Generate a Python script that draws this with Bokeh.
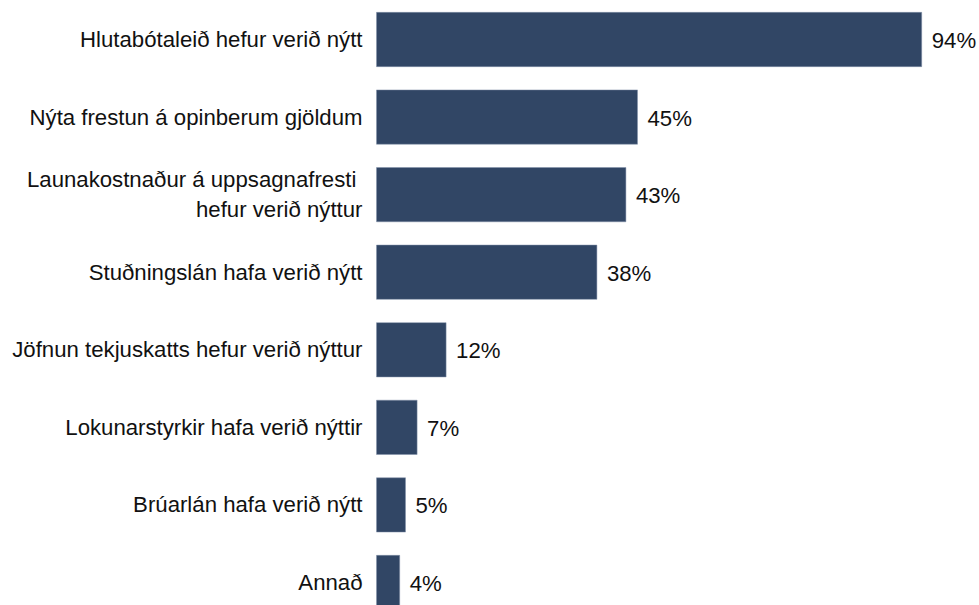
from bokeh.plotting import figure
from bokeh.models import ColumnDataSource, Range1d
from bokeh.core.properties import value
from bokeh.embed import file_html
from bokeh.resources import INLINE

categories = [
    "Hlutabótaleið hefur verið nýtt",
    "Nýta frestun á opinberum gjöldum",
    "Launakostnaður á uppsagnafresti \nhefur verið nýttur",
    "Stuðningslán hafa verið nýtt",
    "Jöfnun tekjuskatts hefur verið nýttur",
    "Lokunarstyrkir hafa verið nýttir",
    "Brúarlán hafa verið nýtt",
    "Annað",
]
values = [94, 45, 43, 38, 12, 7, 5, 4]
value_labels = ["94%", "45%", "43%", "38%", "12%", "7%", "5%", "4%"]

n = len(categories)
pos = [n - 1 - i for i in range(n)]

src = ColumnDataSource(dict(cat=categories, val=values, lab=value_labels, y=pos,
                            zero=[0] * n))

W, H = 979, 605
px_per_unit = 5.80
x0_px = 376
x_start = -x0_px / px_per_unit
x_end = (W - x0_px) / px_per_unit
step = 77.57
y_top = (n - 1) + 39 / step
y_bot = y_top - H / step

p = figure(width=W, height=H, output_backend="svg", toolbar_location=None,
           x_range=Range1d(x_start, x_end), y_range=Range1d(y_bot, y_top),
           min_border=0, outline_line_color=None)
p.axis.visible = False
p.grid.visible = False

p.hbar(y="y", left=0, right="val", height=0.7, source=src,
       fill_color="#314665", line_color="#8090a8", line_width=0.5)

p.text(x="zero", y="y", text="cat", source=src, x_offset=-14, y_offset=0,
       text_align="right", text_baseline="middle",
       text_font=value("Liberation Sans"), text_font_size="22.2px",
       text_color="#111111", text_line_height=1.2)

p.text(x="val", y="y", text="lab", source=src, x_offset=10, y_offset=1,
       text_align="left", text_baseline="middle",
       text_font=value("Liberation Sans"), text_font_size="22.2px",
       text_color="#111111")

open("out.html", "w").write(file_html(p, INLINE))
